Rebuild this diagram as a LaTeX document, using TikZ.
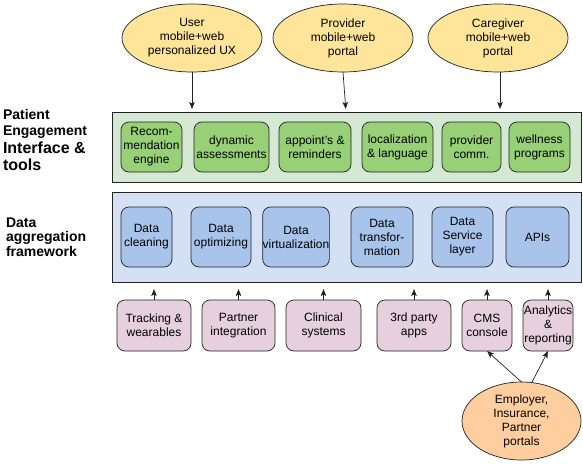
\documentclass[tikz,border=0pt]{standalone}
\usepackage{fontspec}
\setmainfont{Liberation Sans}
\usetikzlibrary{arrows.meta,shapes.geometric}
\definecolor{ylw}{HTML}{FFE599}
\definecolor{org}{HTML}{FFCE9F}
\definecolor{grnbg}{HTML}{D5E8D4}
\definecolor{grn}{HTML}{97D077}
\definecolor{bluebg}{HTML}{D4E1F5}
\definecolor{blu}{HTML}{A9C4EB}
\definecolor{pnk}{HTML}{E6D0DE}
\definecolor{edge}{HTML}{222222}
\begin{document}
\begin{tikzpicture}[x=1pt,y=-1pt,
  every node/.style={font=\fontsize{12}{14}\selectfont, align=center, inner sep=0pt, outer sep=0pt},
  ell/.style={ellipse, draw=edge, line width=0.7pt},
  topell/.style={ell, fill=ylw, minimum width=140pt, minimum height=68pt},
  cont/.style={draw=edge, line width=0.8pt, minimum width=469pt},
  rbox/.style={draw=edge, line width=0.7pt, rounded corners=8pt},
  gbox/.style={rbox, fill=grn, minimum height=50pt},
  bbox/.style={rbox, fill=blu, minimum height=60pt},
  pbox/.style={rbox, fill=pnk, minimum height=51pt},
  ttl/.style={font=\bfseries\fontsize{14}{16}\selectfont, align=left, anchor=west},
  arr/.style={-{Stealth[length=7pt,width=5.5pt,inset=1.5pt]}, line width=0.7pt, draw=edge},
]
\useasboundingbox (0,0) rectangle (583,463);

% titles
\node[ttl] (t1) at (3,124) {Patient\\Engagement};
\node[ttl, font=\bfseries\fontsize{16}{17.5}\selectfont] (t2) at (3,156.5) {Interface \&\\tools};
\node[ttl, font=\bfseries\fontsize{14}{14.6}\selectfont] (t3) at (6,237) {Data\\aggregation\\framework};

% top ellipses
\node[topell] (user) at (192,38) {User\\mobile+web\\personalized UX};
\node[topell] (prov) at (343,38) {Provider\\mobile+web\\portal};
\node[topell] (care) at (498,38) {Caregiver\\mobile+web\\portal};

% containers
\node[cont, fill=grnbg, minimum height=70pt] (eng) at (346.5,147) {};
\node[cont, fill=bluebg, minimum height=90pt] (agg) at (346.5,237) {};

% green nodes
\node[gbox, minimum width=61pt] (rec) at (151.5,147) {Recom-\\mendation\\engine};
\node[gbox, minimum width=75pt] (dyn) at (231.5,147) {dynamic\\assessments};
\node[gbox, minimum width=72pt] (app) at (315,147) {appoint's \&\\reminders};
\node[gbox, minimum width=71pt] (loc) at (397.5,147) {localization\\\& language};
\node[gbox, minimum width=59pt] (pco) at (471.5,147) {provider\\comm.};
\node[gbox, minimum width=61pt] (wel) at (539.5,147) {wellness\\programs};

% blue nodes
\node[bbox, minimum width=51pt] (dcl) at (146.5,237) {Data\\cleaning};
\node[bbox, minimum width=60pt] (dop) at (221,237) {Data\\optimizing};
\node[bbox, minimum width=62pt] (dvi) at (296,237) {Data\\virtualization};
\node[bbox, minimum width=62pt] (dtr) at (382,237) {Data\\transfor-\\mation};
\node[bbox, minimum width=61pt] (dsl) at (462.5,237) {Data\\Service\\layer};
\node[bbox, minimum width=63pt] (api) at (537.5,237) {APIs};

% pink nodes
\node[pbox, minimum width=74pt] (trk) at (154,325.5) {Tracking \&\\wearables};
\node[pbox, minimum width=73pt] (par) at (238.5,325.5) {Partner\\integration};
\node[pbox, minimum width=75pt] (cli) at (323.5,325.5) {Clinical\\systems};
\node[pbox, minimum width=74pt] (trd) at (414,325.5) {3rd party\\apps};
\node[pbox, minimum width=50pt] (cms) at (487,325.5) {CMS\\console};
\node[pbox, minimum width=50pt] (ana) at (548,325.5) {Analytics\\\&\\reporting};

% bottom ellipse
\node[ell, fill=org, minimum width=119pt, minimum height=78pt] (emp) at (521.5,421) {Employer,\\Insurance,\\Partner\\portals};

% top arrows
\draw[arr, shorten >=3pt] (user.south) -- (user.south |- eng.north);
\draw[arr, shorten >=3pt] (prov.south) -- ([xshift=3pt]prov.south |- eng.north);
\draw[arr, shorten >=3pt] ([xshift=2pt]care.south) -- ([xshift=2pt]care.south |- eng.north);

% bottom up arrows
\foreach \n in {trk,par,cli,trd,cms,ana}
  \draw[arr, shorten >=7pt] (\n.north) -- (\n.north |- agg.south);

% employer arrows
\draw[arr] (emp.north) -- (cms.south);
\draw[arr] (emp.75) -- (ana.south);
\end{tikzpicture}
\end{document}
